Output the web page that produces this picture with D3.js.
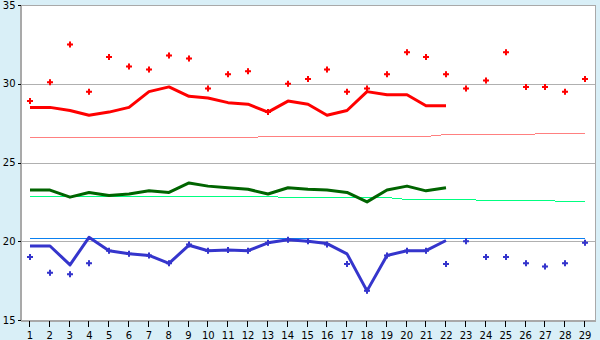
<!DOCTYPE html>
<html>
<head>
<meta charset="utf-8">
<script src="https://d3js.org/d3.v7.min.js"></script>
<style>
body { margin: 0; background: #d9eff7; }
svg { display: block; }
text { font-family: "DejaVu Sans", Verdana, sans-serif; font-size: 10px; fill: #000; }
</style>
</head>
<body>
<svg width="600" height="340"></svg>
<script>
// categories (day numbers)
var days = [1, 2, 3, 4, 5, 6, 7, 8, 9, 10, 11, 12, 13, 14, 15, 16, 17, 18, 19, 20, 21, 22, 23, 24, 25, 26, 27, 28, 29];
var yTicks = [15, 20, 25, 30, 35];

// red markers and red line
var redDots = [28.9, 30.1, 32.5, 29.5, 31.7, 31.1, 30.9, 31.8, 31.6, 29.7, 30.6, 30.8, 28.2, 30.0, 30.3, 30.9, 29.5, 29.7, 30.6, 32.0, 31.7, 30.6, 29.7, 30.2, 32.0, 29.8, 29.8, 29.5, 30.3];
var redLine = [28.5, 28.5, 28.3, 28.0, 28.2, 28.5, 29.5, 29.8, 29.2, 29.1, 28.8, 28.7, 28.2, 28.9, 28.7, 28.0, 28.3, 29.5, 29.3, 29.3, 28.6, 28.6];
var pinkLine = [26.6, 26.6, 26.6, 26.6, 26.6, 26.6, 26.6, 26.6, 26.6, 26.6, 26.6, 26.6, 26.7, 26.7, 26.7, 26.7, 26.7, 26.7, 26.7, 26.7, 26.7, 26.8, 26.8, 26.8, 26.8, 26.8, 26.9, 26.9, 26.9];

// green lines
var darkGreenLine = [23.25, 23.25, 22.8, 23.1, 22.9, 23.0, 23.2, 23.1, 23.7, 23.5, 23.4, 23.3, 23.0, 23.4, 23.3, 23.25, 23.1, 22.5, 23.25, 23.5, 23.2, 23.4];
var greenLine = [22.9, 22.9, 22.9, 22.9, 22.9, 22.9, 22.9, 22.9, 22.9, 22.9, 22.9, 22.9, 22.9, 22.8, 22.8, 22.8, 22.8, 22.8, 22.8, 22.7, 22.7, 22.7, 22.7, 22.6, 22.6, 22.6, 22.6, 22.55, 22.55];

// blue markers and lines
var blueDots = [19.0, 18.0, 17.9, 18.6, 19.4, 19.2, 19.1, 18.6, 19.8, 19.4, 19.45, 19.4, 19.9, 20.1, 20.0, 19.8, 18.55, 16.85, 19.1, 19.4, 19.4, 18.55, 20.0, 19.0, 19.0, 18.6, 18.4, 18.6, 19.9];
var blueLine = [19.7, 19.7, 18.5, 20.25, 19.4, 19.2, 19.1, 18.6, 19.75, 19.4, 19.45, 19.4, 19.9, 20.1, 20.0, 19.85, 19.2, 16.85, 19.1, 19.4, 19.4, 20.05];
var lightBlueLine = [20.2, 20.2, 20.2, 20.2, 20.2, 20.2, 20.2, 20.2, 20.2, 20.2, 20.2, 20.2, 20.2, 20.2, 20.2, 20.2, 20.2, 20.2, 20.2, 20.2, 20.2, 20.2, 20.2, 20.2, 20.2, 20.2, 20.2, 20.2, 20.2];

/////////////////////////////////////
var svg = d3.select("svg"),
	margin = { top: 5, right: 5, bottom: 20, left: 20 },
	width = +svg.attr("width") - margin.left - margin.right,
	height = +svg.attr("height") - margin.top - margin.bottom,
	g = svg.append("g").attr("transform", "translate(" + margin.left + "," + margin.top + ")");

var x = d3.scaleBand().domain(days).range([0, width]);
var y = d3.scaleLinear().domain([15, 35]).range([height, 0]);

function cx(i) { return x(days[i]) + x.bandwidth() / 2; }

// plot background + border
g.append("rect")
	.attr("x", 0.5).attr("y", 0.5)
	.attr("width", width).attr("height", height)
	.attr("fill", "#fff")
	.attr("stroke", "#a9a9a9")
	.attr("shape-rendering", "crispEdges");

// gridlines
g.selectAll(".grid")
	.data([20, 25, 30])
	.enter().append("line")
	.attr("x1", 0).attr("x2", width)
	.attr("y1", function (d) { return Math.round(y(d)) + 0.5; })
	.attr("y2", function (d) { return Math.round(y(d)) + 0.5; })
	.attr("stroke", "#b0b0b0")
	.attr("shape-rendering", "crispEdges");

// axes
var yAxis = g.append("g")
	.attr("transform", "translate(0.5,0)")
	.call(d3.axisLeft(y).tickValues(yTicks).tickSize(3).tickSizeOuter(0).tickPadding(2));
var xAxis = g.append("g")
	.attr("transform", "translate(0," + (height + 0.5) + ")")
	.call(d3.axisBottom(x).tickSize(6).tickSizeOuter(0).tickPadding(5));
[yAxis, xAxis].forEach(function (a) {
	a.select(".domain").attr("stroke", "#a9a9a9").attr("shape-rendering", "crispEdges");
	a.selectAll(".tick line").attr("stroke", "#000").attr("shape-rendering", "crispEdges");
	a.selectAll("text").style("font-family", null).attr("font-size", null);
});
xAxis.selectAll(".tick line").attr("transform", "translate(-0.5,0)");

function drawLine(values, color, w, crisp) {
	var line = d3.line()
		.x(function (d, i) { return Math.round(cx(i)); })
		.y(function (d) { return crisp ? Math.round(y(d)) + 0.5 : y(d); });
	g.append("path")
		.datum(values)
		.attr("fill", "none")
		.attr("stroke", color)
		.attr("stroke-width", w)
		.attr("stroke-linejoin", "round")
		.attr("shape-rendering", crisp ? "crispEdges" : "auto")
		.attr("d", line);
}

// plus-shaped marker with a small diamond core
function drawDots(values, color) {
	var dots = g.append("g").selectAll("g")
		.data(values)
		.enter().append("g")
		.attr("transform", function (d, i) { return "translate(" + Math.round(cx(i)) + "," + y(d) + ")"; })
		.attr("fill", color);
	dots.append("path").attr("d", d3.symbol().type(d3.symbolCross).size(20));
	dots.append("path").attr("d", d3.symbol().type(d3.symbolDiamond).size(10));
}

// thin reference lines
drawLine(pinkLine, "#ff8080", 1, true);
drawLine(greenLine, "#00ff80", 1, true);
drawLine(lightBlueLine, "#0a80f0", 1.2, true);

// thick lines
drawLine(redLine, "#ff0000", 3, false);
drawLine(darkGreenLine, "#006400", 3, false);
drawLine(blueLine, "#3535cc", 3, false);

// markers
drawDots(redDots, "#ff0000");
drawDots(blueDots, "#3535cc");
</script>
</body>
</html>
